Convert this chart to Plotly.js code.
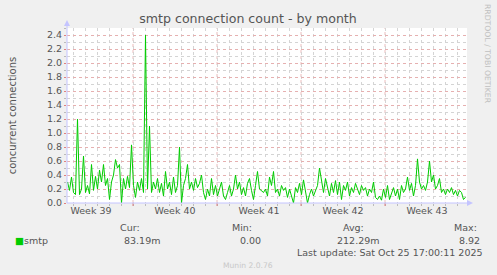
<!DOCTYPE html>
<html><head><meta charset="utf-8">
<script src="https://cdn.plot.ly/plotly-3.0.1.min.js"></script>
<style>html,body{margin:0;padding:0;background:#f0f0f0;}#chart{width:497px;height:275px;}</style>
</head><body><div id="chart"></div>
<script>
// smtp concurrent connections, one sample every 4 hours
const smtpValues = [
0.30,0.18,0.37,0.15,0.12,1.20,0.12,0.20,0.67,0.15,
0.25,0.13,0.55,0.18,0.38,0.20,0.47,0.30,0.55,0.25,
0.35,0.05,0.30,0.40,0.62,0.50,0.55,0.00,0.35,0.20,
0.38,0.22,0.83,0.25,0.08,0.30,0.18,0.35,0.15,2.40,
0.20,1.10,0.15,0.30,0.20,0.35,0.15,0.28,0.10,0.45,
0.20,0.30,0.12,0.37,0.15,0.25,0.80,0.00,0.25,0.35,
0.55,0.20,0.30,0.18,0.35,0.22,0.28,0.40,0.15,0.05,
0.20,0.10,0.35,0.12,0.25,0.10,0.20,0.30,0.10,0.05,
0.15,0.25,0.10,0.20,0.40,0.20,0.30,0.12,0.22,0.10,
0.28,0.35,0.18,0.05,0.25,0.45,0.20,0.18,0.15,0.20,
0.10,0.37,0.25,0.45,0.15,0.20,0.10,0.25,0.18,0.22,
0.08,0.20,0.10,0.00,0.22,0.15,0.28,0.12,0.33,0.15,
0.00,0.12,0.20,0.10,0.18,0.25,0.50,0.30,0.15,0.35,
0.20,0.10,0.28,0.15,0.32,0.12,0.30,0.05,0.25,0.18,
0.30,0.10,0.22,0.15,0.28,0.20,0.12,0.25,0.18,0.22,
0.10,0.20,0.15,0.30,0.08,0.05,0.10,0.04,0.20,0.08,
0.25,0.05,0.15,0.22,0.10,0.20,0.05,0.25,0.15,0.20,
0.37,0.18,0.28,0.10,0.25,0.63,0.30,0.20,0.25,0.18,
0.30,0.60,0.30,0.40,0.20,0.25,0.35,0.15,0.20,0.12,
0.20,0.15,0.22,0.12,0.18,0.10,0.18,0.15,0.05,0.083
];
const sampleStartDay = -5.458;   // days relative to Sun 2025-09-28 00:00
const sampleStepDay = 1/6;       // 4 hours
const weekLabels = ['Week 39','Week 40','Week 41','Week 42','Week 43'];
const weekLabelPos = [-3.5, 3.5, 10.5, 17.5, 24.5];
const weekStarts = [0, 7, 14, 21];
const yTickVals = [0,0.2,0.4,0.6,0.8,1.0,1.2,1.4,1.6,1.8,2.0,2.2,2.4];
const statLabels = ['Cur:','Min:','Avg:','Max:'];
const statValues = ['83.19m','0.00','212.29m','8.92'];
const seriesName = 'smtp';
const lastUpdate = 'Last update: Sat Oct 25 17:00:11 2025';

const xs = smtpValues.map((v,i)=>sampleStartDay + i*sampleStepDay);

const W=497,H=275,L=67,R=30,T=28,B=72;
const pw=W-L-R, ph=H-T-B;
const px=x=>(x-L)/pw, py=y=>(H-B-y)/ph;
const axisCol='#c4c4ff', txt='#555', font='DejaVu Sans, sans-serif';

const trace = {x:xs, y:smtpValues, type:'scatter', mode:'lines',
  line:{color:'#00cc00', width:1}, name:seriesName, showlegend:false, hoverinfo:'skip'};

const shapes = [];
weekStarts.forEach(d=>{
  shapes.push({type:'line', xref:'x', yref:'paper', x0:d, x1:d, y0:0, y1:1,
    line:{color:'#ebbcbc', width:1, dash:'dot'}, layer:'below'});
  shapes.push({type:'line', xref:'x', yref:'paper', x0:d, x1:d, y0:py(206), y1:0,
    line:{color:'#e08080', width:1}});
});
// axes with arrows
shapes.push({type:'line', xref:'paper', yref:'paper', x0:0, x1:0, y0:0, y1:py(24), line:{color:axisCol,width:1}});
shapes.push({type:'line', xref:'paper', yref:'paper', x0:0, x1:px(469), y0:0, y1:0, line:{color:axisCol,width:1}});
shapes.push({type:'path', xref:'paper', yref:'paper',
  path:`M ${px(64)} ${py(26)} L ${px(70)} ${py(26)} L ${px(67)} ${py(20)} Z`, fillcolor:axisCol, line:{width:0}});
shapes.push({type:'path', xref:'paper', yref:'paper',
  path:`M ${px(467)} ${py(200)} L ${px(467)} ${py(206)} L ${px(473)} ${py(203)} Z`, fillcolor:axisCol, line:{width:0}});

const ann = [];
const statCx = [[130,142],[242,250],[353,358.5],[465.6,469.5]];
statLabels.forEach((s,i)=>{
  ann.push({text:s, xref:'paper', yref:'paper', x:px(statCx[i][0]), y:py(227), xanchor:'center', yanchor:'middle', showarrow:false, font:{family:font,size:9.5,color:txt}});
  ann.push({text:statValues[i], xref:'paper', yref:'paper', x:px(statCx[i][1]), y:py(240), xanchor:'center', yanchor:'middle', showarrow:false, font:{family:font,size:9.5,color:txt}});
});
ann.push({text:'<span style="color:#00cc00">■</span>'+seriesName, xref:'paper', yref:'paper', x:px(13), y:py(240), xanchor:'left', yanchor:'middle', showarrow:false, font:{family:font,size:9.5,color:txt}});
ann.push({text:lastUpdate, xref:'paper', yref:'paper', x:px(390), y:py(252), xanchor:'center', yanchor:'middle', showarrow:false, font:{family:font,size:9.5,color:txt}});
ann.push({text:'Munin 2.0.76', xref:'paper', yref:'paper', x:px(248), y:py(265), xanchor:'center', yanchor:'middle', showarrow:false, font:{family:font,size:7.6,color:'#c8c8c8'}});
ann.push({text:'RRDTOOL / TOBI OETIKER', xref:'paper', yref:'paper', x:px(487.5), y:py(53.5), xanchor:'center', yanchor:'middle', textangle:90, showarrow:false, font:{family:font,size:7.7,color:'#c0c0c0'}});

const layout = {
  width:W, height:H, margin:{l:L,r:R,t:T,b:B,pad:0},
  paper_bgcolor:'#f0f0f0', plot_bgcolor:'#ffffff',
  title:{text:'smtp connection count - by month', xref:'container', yref:'container', x:248/W, y:1-19/H, xanchor:'center', yanchor:'middle', font:{family:font,size:12.6,color:txt}},
  xaxis:{range:[-5.5, -5.5+pw/12], tickmode:'array', tickvals:weekLabelPos, ticktext:weekLabels,
    showgrid:false, zeroline:false, showline:false, ticks:'', ticklen:0, tickfont:{family:font,size:9.5,color:txt},
    minor:{tickmode:'linear', tick0:0, dtick:1, showgrid:true, gridcolor:'#d4d4d4', griddash:'dot', gridwidth:1, ticks:'outside', ticklen:2, tickcolor:'#bbbbbb'},
    fixedrange:true},
  yaxis:{range:[0,2.5], tickmode:'array', tickvals:yTickVals, tickformat:'.1f',
    showgrid:true, gridcolor:'#e6b0b0', griddash:'dot', gridwidth:1, zeroline:false, showline:false,
    ticks:'outside', ticklen:2, tickcolor:'#e08080', tickfont:{family:font,size:9.5,color:txt},
    minor:{tickmode:'linear', tick0:0, dtick:0.1, showgrid:true, gridcolor:'#d4d4d4', griddash:'dot', gridwidth:1, ticks:'outside', ticklen:2, tickcolor:'#bbbbbb'},
    title:{text:'concurrent connections', standoff:28, font:{family:font,size:10,color:txt}}, fixedrange:true},
  shapes:shapes, annotations:ann, showlegend:false
};
Plotly.newPlot('chart',[trace],layout,{displayModeBar:false,staticPlot:true});
</script></body></html>
